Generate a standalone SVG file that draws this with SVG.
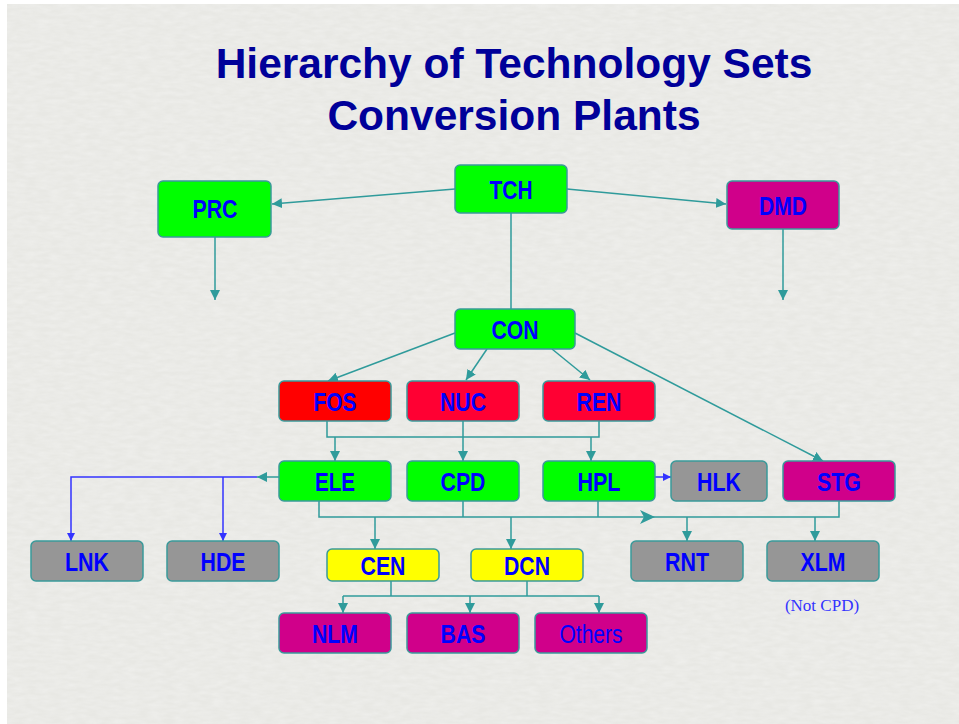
<svg xmlns="http://www.w3.org/2000/svg" width="959" height="724" viewBox="0 0 959 724">
<defs>
<style>
.bg{fill:#e8e8e4}
.n rect{stroke:#3a9a9a;stroke-width:1.5}
.n text{font-family:"Liberation Sans",Arial,sans-serif;font-weight:bold;font-size:26px;fill:#0000ff;text-anchor:middle}
.g{fill:#00ff00}.r{fill:#ff0000}.r2{fill:#ff0033}.m{fill:#d0008a}.gr{fill:#969696}.y{fill:#ffff00}
.c{fill:none;stroke:#2f9b9b;stroke-width:1.5}
.b{fill:none;stroke:#3333ff;stroke-width:1.5}
.title{font-family:"Liberation Sans",Arial,sans-serif;font-weight:bold;font-size:42.5px;fill:#000099;text-anchor:middle}
</style>
<marker id="ah" viewBox="0 0 10 10" refX="10" refY="5" markerWidth="10" markerHeight="10" markerUnits="userSpaceOnUse" orient="auto">
<path d="M0,0 L10,5 L0,10 z" fill="#2f9b9b"/>
</marker>
<marker id="bh" viewBox="0 0 10 10" refX="10" refY="5" markerWidth="8" markerHeight="8" markerUnits="userSpaceOnUse" orient="auto">
<path d="M0,0 L10,5 L0,10 z" fill="#3333ff"/>
</marker>
<filter id="tex" x="0" y="0" width="100%" height="100%">
<feTurbulence type="fractalNoise" baseFrequency="0.08 0.25" numOctaves="2" seed="3"/>
<feColorMatrix type="matrix" values="0 0 0 0 1  0 0 0 0 1  0 0 0 0 1  0 0 0 -1.2 0.9"/>
</filter>
</defs>
<rect width="959" height="724" fill="#ffffff"/>
<rect class="bg" x="7" y="4" width="952" height="720"/>
<rect x="7" y="4" width="952" height="720" filter="url(#tex)" opacity="0.35"/>

<g id="title">
<text class="title" x="514" y="78">Hierarchy of Technology Sets</text>
<text class="title" x="514" y="130">Conversion Plants</text>
</g>

<g id="connectors">
<line class="c" x1="455" y1="189" x2="272" y2="204" marker-end="url(#ah)"/>
<line class="c" x1="567" y1="189" x2="726" y2="204" marker-end="url(#ah)"/>
<line class="c" x1="215" y1="237" x2="215" y2="300" marker-end="url(#ah)"/>
<line class="c" x1="783" y1="229" x2="783" y2="300" marker-end="url(#ah)"/>
<line class="c" x1="511" y1="213" x2="511" y2="309"/>
<line class="c" x1="455" y1="333" x2="328" y2="381" marker-end="url(#ah)"/>
<line class="c" x1="487" y1="349" x2="466" y2="380" marker-end="url(#ah)"/>
<line class="c" x1="552" y1="349" x2="590" y2="380" marker-end="url(#ah)"/>
<line class="c" x1="575" y1="333" x2="823" y2="461" marker-end="url(#ah)"/>
<polyline class="c" points="327,421 327,437 599,437 599,421"/>
<line class="c" x1="463" y1="421" x2="463" y2="461" marker-end="url(#ah)"/>
<line class="c" x1="335" y1="437" x2="335" y2="461" marker-end="url(#ah)"/>
<line class="c" x1="591" y1="437" x2="591" y2="461" marker-end="url(#ah)"/>
<line class="b" x1="655" y1="477" x2="671" y2="477" marker-end="url(#bh)"/>
<line class="c" x1="279" y1="477" x2="257" y2="477" marker-end="url(#ah)"/>
<polyline class="b" points="257,477 71,477 71,541" marker-end="url(#bh)"/>
<line class="b" x1="223" y1="477" x2="223" y2="541" marker-end="url(#bh)"/>
<polyline class="c" points="319,501 319,517 839,517 839,501"/>
<line class="c" x1="463" y1="501" x2="463" y2="517"/>
<line class="c" x1="598" y1="501" x2="598" y2="517"/>
<polygon points="640,510 655,517 640,524 644,517" fill="#2f9b9b"/>
<line class="c" x1="375" y1="517" x2="375" y2="549" marker-end="url(#ah)"/>
<line class="c" x1="511" y1="517" x2="511" y2="549" marker-end="url(#ah)"/>
<line class="c" x1="687" y1="517" x2="687" y2="541" marker-end="url(#ah)"/>
<line class="c" x1="815" y1="517" x2="815" y2="541" marker-end="url(#ah)"/>
<line class="c" x1="391" y1="581" x2="391" y2="596"/>
<line class="c" x1="527" y1="581" x2="527" y2="596"/>
<line class="c" x1="343" y1="596" x2="599" y2="596"/>
<line class="c" x1="343" y1="596" x2="343" y2="613" marker-end="url(#ah)"/>
<line class="c" x1="470" y1="596" x2="470" y2="613" marker-end="url(#ah)"/>
<line class="c" x1="599" y1="596" x2="599" y2="613" marker-end="url(#ah)"/>
</g>

<g id="TCH" class="n"><rect class="g" x="455" y="165" width="112" height="48" rx="5"/><text x="511" y="199" textLength="43" lengthAdjust="spacingAndGlyphs">TCH</text></g>
<g id="PRC" class="n"><rect class="g" x="158" y="181" width="113" height="56" rx="5"/><text x="215" y="218" textLength="45" lengthAdjust="spacingAndGlyphs">PRC</text></g>
<g id="DMD" class="n"><rect class="m" x="727" y="181" width="112" height="48" rx="5"/><text x="783" y="215" textLength="48" lengthAdjust="spacingAndGlyphs">DMD</text></g>
<g id="CON" class="n"><rect class="g" x="455" y="309" width="120" height="40" rx="5"/><text x="515" y="339" textLength="47" lengthAdjust="spacingAndGlyphs">CON</text></g>
<g id="FOS" class="n"><rect class="r" x="279" y="381" width="112" height="40" rx="5"/><text x="335" y="411" textLength="43" lengthAdjust="spacingAndGlyphs">FOS</text></g>
<g id="NUC" class="n"><rect class="r2" x="407" y="381" width="112" height="40" rx="5"/><text x="463" y="411" textLength="46" lengthAdjust="spacingAndGlyphs">NUC</text></g>
<g id="REN" class="n"><rect class="r2" x="543" y="381" width="112" height="40" rx="5"/><text x="599" y="411" textLength="45" lengthAdjust="spacingAndGlyphs">REN</text></g>
<g id="ELE" class="n"><rect class="g" x="279" y="461" width="112" height="40" rx="5"/><text x="335" y="491" textLength="40" lengthAdjust="spacingAndGlyphs">ELE</text></g>
<g id="CPD" class="n"><rect class="g" x="407" y="461" width="112" height="40" rx="5"/><text x="463" y="491" textLength="45" lengthAdjust="spacingAndGlyphs">CPD</text></g>
<g id="HPL" class="n"><rect class="g" x="543" y="461" width="112" height="40" rx="5"/><text x="599" y="491" textLength="43" lengthAdjust="spacingAndGlyphs">HPL</text></g>
<g id="HLK" class="n"><rect class="gr" x="671" y="461" width="96" height="40" rx="5"/><text x="719" y="491" textLength="44" lengthAdjust="spacingAndGlyphs">HLK</text></g>
<g id="STG" class="n"><rect class="m" x="783" y="461" width="112" height="40" rx="5"/><text x="839" y="491" textLength="44" lengthAdjust="spacingAndGlyphs">STG</text></g>
<g id="LNK" class="n"><rect class="gr" x="31" y="541" width="112" height="40" rx="5"/><text x="87" y="571" textLength="44" lengthAdjust="spacingAndGlyphs">LNK</text></g>
<g id="HDE" class="n"><rect class="gr" x="167" y="541" width="112" height="40" rx="5"/><text x="223" y="571" textLength="45" lengthAdjust="spacingAndGlyphs">HDE</text></g>
<g id="CEN" class="n"><rect class="y" x="327" y="549" width="112" height="32" rx="5"/><text x="383" y="575" textLength="45" lengthAdjust="spacingAndGlyphs">CEN</text></g>
<g id="DCN" class="n"><rect class="y" x="471" y="549" width="112" height="32" rx="5"/><text x="527" y="575" textLength="46" lengthAdjust="spacingAndGlyphs">DCN</text></g>
<g id="RNT" class="n"><rect class="gr" x="631" y="541" width="112" height="40" rx="5"/><text x="687" y="571" textLength="44" lengthAdjust="spacingAndGlyphs">RNT</text></g>
<g id="XLM" class="n"><rect class="gr" x="767" y="541" width="112" height="40" rx="5"/><text x="823" y="571" textLength="45" lengthAdjust="spacingAndGlyphs">XLM</text></g>
<g id="NLM" class="n"><rect class="m" x="279" y="613" width="112" height="40" rx="5"/><text x="335" y="643" textLength="46" lengthAdjust="spacingAndGlyphs">NLM</text></g>
<g id="BAS" class="n"><rect class="m" x="407" y="613" width="112" height="40" rx="5"/><text x="463" y="643" textLength="45" lengthAdjust="spacingAndGlyphs">BAS</text></g>
<g id="Others" class="n"><rect class="m" x="535" y="613" width="112" height="40" rx="5"/><text x="591" y="643" textLength="63" lengthAdjust="spacingAndGlyphs" style="font-weight:normal">Others</text></g>
<g id="note"><text x="822" y="611" style="font-family:'Liberation Serif','Times New Roman',serif;font-size:17px;fill:#3333ff;text-anchor:middle">(Not CPD)</text></g>
</svg>
